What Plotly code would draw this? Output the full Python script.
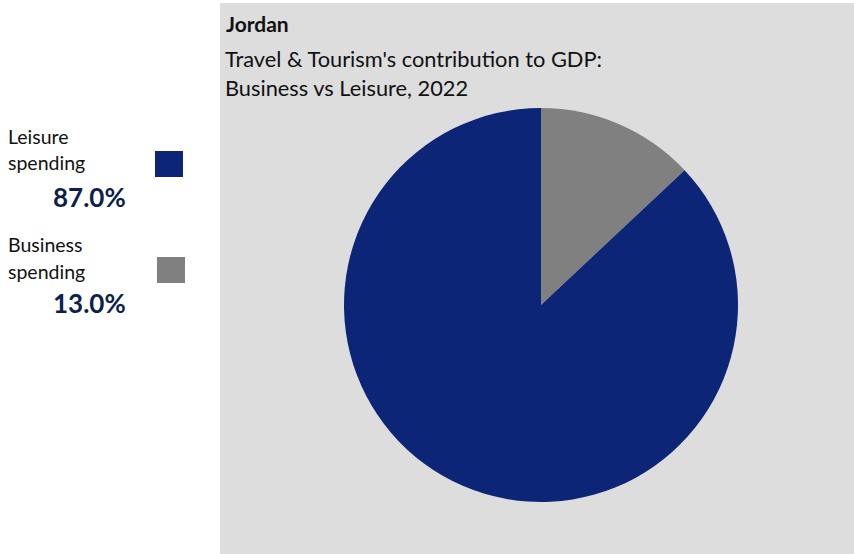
import plotly.graph_objects as go

categories = ["Business spending", "Leisure spending"]
values = [13.0, 87.0]
colors = ["#808080", "#0c2577"]
pct_labels = ["13.0%", "87.0%"]

W, H = 854, 554
FONT = "Lato, 'Open Sans', sans-serif"

def px(x):
    return x / W

def py(y):
    return 1 - y / H

fig = go.Figure()
fig.add_trace(go.Pie(
    labels=categories, values=values, sort=False, direction="clockwise",
    rotation=0, marker=dict(colors=colors, line=dict(width=0)),
    textinfo="none", hoverinfo="label+percent", showlegend=False,
    domain=dict(x=[px(344), px(738)], y=[py(502), py(108)]),
))

shapes = [
    dict(type="rect", xref="paper", yref="paper", x0=px(220), x1=1, y0=0, y1=py(3),
         fillcolor="#dddddd", line=dict(width=0), layer="below"),
    dict(type="rect", xref="paper", yref="paper", x0=px(155), x1=px(183),
         y0=py(177), y1=py(151), fillcolor=colors[1], line=dict(width=0)),
    dict(type="rect", xref="paper", yref="paper", x0=px(157), x1=px(185),
         y0=py(283), y1=py(257), fillcolor=colors[0], line=dict(width=0)),
]

def ann(text, x, y, size, color="#111111", bold=False, anchor="left"):
    return dict(text=f"<b>{text}</b>" if bold else text, x=px(x), y=py(y),
                xref="paper", yref="paper", xanchor=anchor, yanchor="middle",
                showarrow=False, font=dict(family=FONT, size=size, color=color))

annotations = [
    ann("Jordan", 224, 23, 21, bold=True),
    ann("Travel & Tourism's contribution to GDP:", 223, 58, 21.8),
    ann("Business vs Leisure, 2022", 223, 87, 21.8),
    ann("Leisure", 6, 137, 19.5),
    ann("spending", 6, 163, 19.5),
    ann(pct_labels[1], 89, 197, 26, color="#0d1f4d", bold=True, anchor="center"),
    ann("Business", 6, 244, 19.5),
    ann("spending", 6, 271, 19.5),
    ann(pct_labels[0], 89, 303, 26, color="#0d1f4d", bold=True, anchor="center"),
]

fig.update_layout(
    width=W, height=H, margin=dict(l=0, r=0, t=0, b=0),
    paper_bgcolor="white", plot_bgcolor="white",
    shapes=shapes, annotations=annotations,
)
fig.write_html("out.html", config={"displayModeBar": False},
               post_script="document.body.style.margin='0';document.body.style.overflow='hidden';")
